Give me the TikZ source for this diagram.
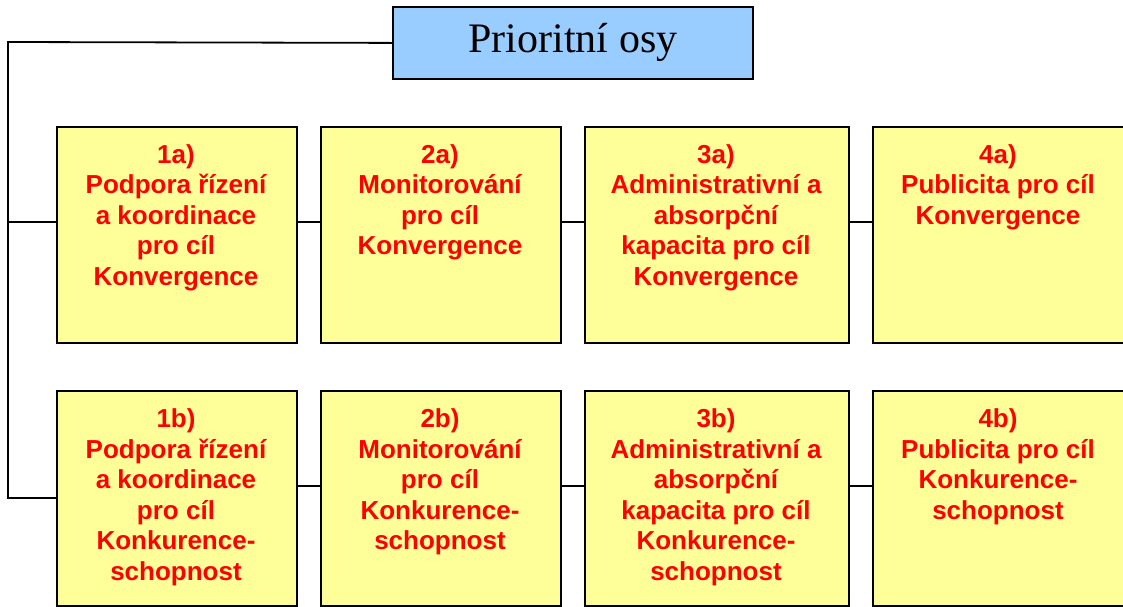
\documentclass[tikz,border=0pt]{standalone}
\usepackage{fontspec}
\setmainfont{Liberation Serif}
\newfontfamily\boxfont{Liberation Sans}
\definecolor{boxyellow}{HTML}{FFFF99}
\definecolor{boxblue}{HTML}{99CCFF}
\definecolor{textred}{HTML}{FF0000}
\begin{document}
\begin{tikzpicture}[x=1pt,y=-1pt,
  cell/.style={draw=black, line width=1.8pt, fill=boxyellow, inner sep=0pt, anchor=north west},
  celltext/.style={anchor=north, align=center, inner sep=0pt, text=textred, font=\boxfont\bfseries\fontsize{26}{30.5}\selectfont},
  link/.style={line width=1.8pt, draw=black}]
\useasboundingbox (0,0) rectangle (1123,606);
% title box
\node[draw=black, line width=1.8pt, fill=boxblue, minimum width=360pt, minimum height=72pt,
      anchor=north west, inner sep=0pt, font=\fontsize{42}{50}\selectfont] (top) at (392,6) {Prioritní osy};
% row a
\node[cell, minimum width=240pt, minimum height=216pt] (a1) at (56,126) {};
\node[cell, minimum width=240pt, minimum height=216pt] (a2) at (320,126) {};
\node[cell, minimum width=264pt, minimum height=216pt] (a3) at (584,126) {};
\node[cell, minimum width=256pt, minimum height=216pt] (a4) at (872,126) {};
% row b
\node[cell, minimum width=240pt, minimum height=215pt] (b1) at (56,390) {};
\node[cell, minimum width=240pt, minimum height=215pt] (b2) at (320,390) {};
\node[cell, minimum width=264pt, minimum height=215pt] (b3) at (584,390) {};
\node[cell, minimum width=256pt, minimum height=215pt] (b4) at (872,390) {};
% texts row a
\node[celltext] (ta1) at (176,144) {1a)\\Podpora řízení\\a koordinace\\pro cíl\\Konvergence};
\node[celltext] (ta2) at (440,144) {2a)\\Monitorování\\pro cíl\\Konvergence};
\node[celltext] (ta3) at (716,144) {3a)\\Administrativní a\\absorpční\\kapacita pro cíl\\Konvergence};
\node[celltext] (ta4) at (998,144) {4a)\\Publicita pro cíl\\Konvergence};
% texts row b
\node[celltext] (tb1) at (176,408.5) {1b)\\Podpora řízení\\a koordinace\\pro cíl\\Konkurence-\\schopnost};
\node[celltext] (tb2) at (440,408.5) {2b)\\Monitorování\\pro cíl\\Konkurence-\\schopnost};
\node[celltext] (tb3) at (716,408.5) {3b)\\Administrativní a\\absorpční\\kapacita pro cíl\\Konkurence-\\schopnost};
\node[celltext] (tb4) at (998,408.5) {4b)\\Publicita pro cíl\\Konkurence-\\schopnost};
% connectors
\coordinate (trunkTop) at (8,42);
\coordinate (trunkBot) at (8,498);
\coordinate (branchA) at (8,222);
\coordinate (rowB) at (0,486);
\draw[link] (top.west) -- (trunkTop) -- (trunkBot) -- (trunkBot -| b1.west);
\draw[link] (branchA) -- (branchA -| a1.west);
\draw[link] (a1.east |- branchA) -- (a2.west |- branchA);
\draw[link] (a2.east |- branchA) -- (a3.west |- branchA);
\draw[link] (a3.east |- branchA) -- (a4.west |- branchA);
\draw[link] (b1.east |- rowB) -- (b2.west |- rowB);
\draw[link] (b2.east |- rowB) -- (b3.west |- rowB);
\draw[link] (b3.east |- rowB) -- (b4.west |- rowB);
\end{tikzpicture}
\end{document}
